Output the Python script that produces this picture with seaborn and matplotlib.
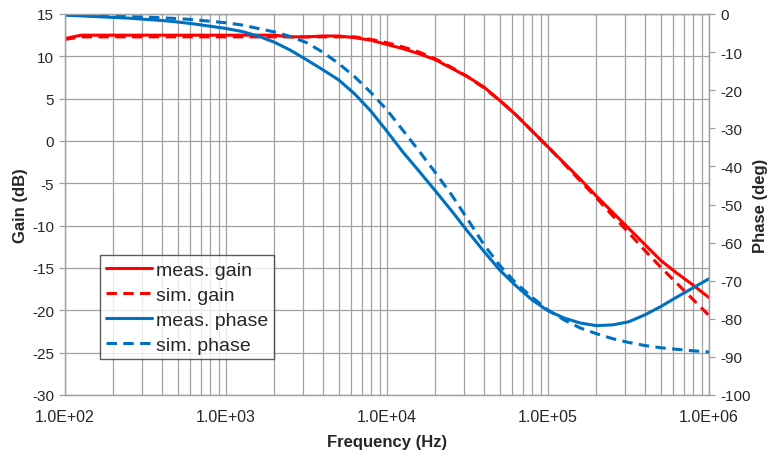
import numpy as np
import pandas as pd
import matplotlib
matplotlib.use("Agg")
import matplotlib.pyplot as plt
from matplotlib.lines import Line2D
from matplotlib.ticker import FixedLocator, FuncFormatter, LogLocator, NullFormatter
import seaborn as sns

# frequency points (Hz), 0.1 decade apart, 1e2 .. 1e6
freq = [100, 126, 158, 200, 251, 316, 398, 501, 631, 794,
        1000, 1259, 1585, 1995, 2512, 3162, 3981, 5012, 6310, 7943,
        10000, 12589, 15849, 19953, 25119, 31623, 39811, 50119, 63096, 79433,
        100000, 125893, 158489, 199526, 251189, 316228, 398107, 501187, 630957, 794328,
        1000000]

# gain (dB), left axis
meas_gain = [12.1, 12.5, 12.5, 12.5, 12.5, 12.5, 12.5, 12.5, 12.5, 12.5,
             12.5, 12.5, 12.5, 12.5, 12.3, 12.3, 12.4, 12.4, 12.2, 11.9,
             11.4, 10.9, 10.3, 9.6, 8.6, 7.6, 6.4, 4.8, 3.1, 1.2,
             -0.7, -2.6, -4.5, -6.5, -8.4, -10.3, -12.2, -14.1, -15.6, -17.0,
             -18.5]
sim_gain = [12.0, 12.3, 12.3, 12.3, 12.3, 12.3, 12.3, 12.3, 12.3, 12.3,
            12.3, 12.3, 12.3, 12.3, 12.3, 12.3, 12.3, 12.3, 12.3, 12.0,
            11.6, 11.1, 10.5, 9.7, 8.7, 7.6, 6.3, 4.8, 3.1, 1.2,
            -0.7, -2.7, -4.7, -6.7, -8.8, -10.8, -12.9, -14.9, -16.8, -18.7,
            -20.6]

# phase (deg), right axis
meas_phase = [-0.3, -0.5, -0.7, -0.9, -1.1, -1.4, -1.7, -2.1, -2.6, -3.2,
              -3.8, -4.6, -5.8, -7.4, -9.5, -12.0, -14.6, -17.3, -21.0, -25.5,
              -30.8, -36.3, -41.3, -46.4, -51.6, -57.0, -62.2, -67.2, -71.3, -75.0,
              -77.9, -79.8, -81.1, -81.8, -81.6, -80.8, -79.0, -76.8, -74.3, -71.9,
              -69.5]
sim_phase = [-0.2, -0.3, -0.4, -0.5, -0.7, -0.8, -1.0, -1.2, -1.5, -1.9,
             -2.3, -2.9, -3.8, -4.7, -5.9, -7.5, -10.0, -13.0, -16.5, -20.6,
             -25.2, -30.6, -36.0, -41.6, -47.4, -53.8, -60.4, -66.0, -70.6, -74.3,
             -77.7, -80.3, -82.4, -83.9, -85.2, -86.2, -87.0, -87.6, -88.0, -88.4,
             -88.7]

gain_ticks = [-30, -25, -20, -15, -10, -5, 0, 5, 10, 15]
phase_ticks = [-100, -90, -80, -70, -60, -50, -40, -30, -20, -10, 0]
labels = ["meas. gain", "sim. gain", "meas. phase", "sim. phase"]

RED = "#ff0000"
BLUE = "#0070c0"
GRID = "#a0a0a0"
LW = 2.2
DASH = (0, (3.4, 2.1))

df = pd.DataFrame({"freq": freq, "meas_gain": meas_gain, "sim_gain": sim_gain,
                   "meas_phase": meas_phase, "sim_phase": sim_phase})

sns.set_style("white")
plt.rcParams["font.family"] = ["Liberation Sans", "DejaVu Sans"]
plt.rcParams["axes.unicode_minus"] = False

fig = plt.figure(figsize=(7.69, 4.56), dpi=100)
ax = fig.add_axes([65 / 769, 1 - 396 / 456, 644 / 769, 381 / 456])
ax.set_xscale("log")
ax2 = ax.twinx()

sns.lineplot(data=df, x="freq", y="meas_gain", ax=ax, color=RED, linewidth=LW)
sns.lineplot(data=df, x="freq", y="sim_gain", ax=ax, color=RED, linewidth=LW, linestyle=DASH)
sns.lineplot(data=df, x="freq", y="meas_phase", ax=ax2, color=BLUE, linewidth=LW)
sns.lineplot(data=df, x="freq", y="sim_phase", ax=ax2, color=BLUE, linewidth=LW, linestyle=DASH)

ax.set_xlim(1e2, 1e6)
ax.set_ylim(-30, 15)
ax2.set_ylim(-100, 0)

# x axis: log, major + minor grid
ax.xaxis.set_major_locator(LogLocator(base=10, numticks=10))
ax.xaxis.set_minor_locator(LogLocator(base=10, subs=np.arange(2, 10), numticks=100))
ax.xaxis.set_minor_formatter(NullFormatter())
ax.xaxis.set_major_formatter(FuncFormatter(lambda v, p: f"{v:.1E}"))
ax.yaxis.set_major_locator(FixedLocator(gain_ticks))
ax2.yaxis.set_major_locator(FixedLocator(phase_ticks))

ax.grid(True, which="major", axis="both", color=GRID, linewidth=0.9)
ax.grid(True, which="minor", axis="x", color=GRID, linewidth=0.9)
ax.set_axisbelow(True)

for a in (ax, ax2):
    for s in a.spines.values():
        s.set_color(GRID)
        s.set_linewidth(0.9)
    a.tick_params(axis="both", which="both", length=4, width=0.9, color=GRID,
                  labelsize=11, labelcolor="#262626", pad=4)
ax.tick_params(axis="x", which="minor", length=0)
ax.tick_params(axis="x", which="major", length=0, pad=10, labelsize=11.5)

ax.set_xlabel("Frequency (Hz)", fontsize=12, fontweight="bold")
ax.set_ylabel("Gain (dB)", fontsize=12, fontweight="bold")
ax2.set_ylabel("Phase (deg)", fontsize=12, fontweight="bold")
ax.xaxis.set_label_coords(0.5, -0.103)
ax.yaxis.set_label_coords(-0.058, 0.5)
ax2.yaxis.set_label_coords(1.068, 0.5)

handles = [
    Line2D([], [], color=RED, linewidth=LW),
    Line2D([], [], color=RED, linewidth=LW, linestyle=DASH),
    Line2D([], [], color=BLUE, linewidth=LW),
    Line2D([], [], color=BLUE, linewidth=LW, linestyle=DASH),
]
leg = ax2.legend(handles, labels, loc="upper left", bbox_to_anchor=(0.054, 0.367),
                 borderaxespad=0, frameon=True, fancybox=False, fontsize=14,
                 handlelength=2.4, handletextpad=0.2, labelspacing=0.38,
                 borderpad=0.3)
leg.get_frame().set_edgecolor("#333333")
leg.get_frame().set_linewidth(1.0)

fig.savefig("out.png", dpi=100)
